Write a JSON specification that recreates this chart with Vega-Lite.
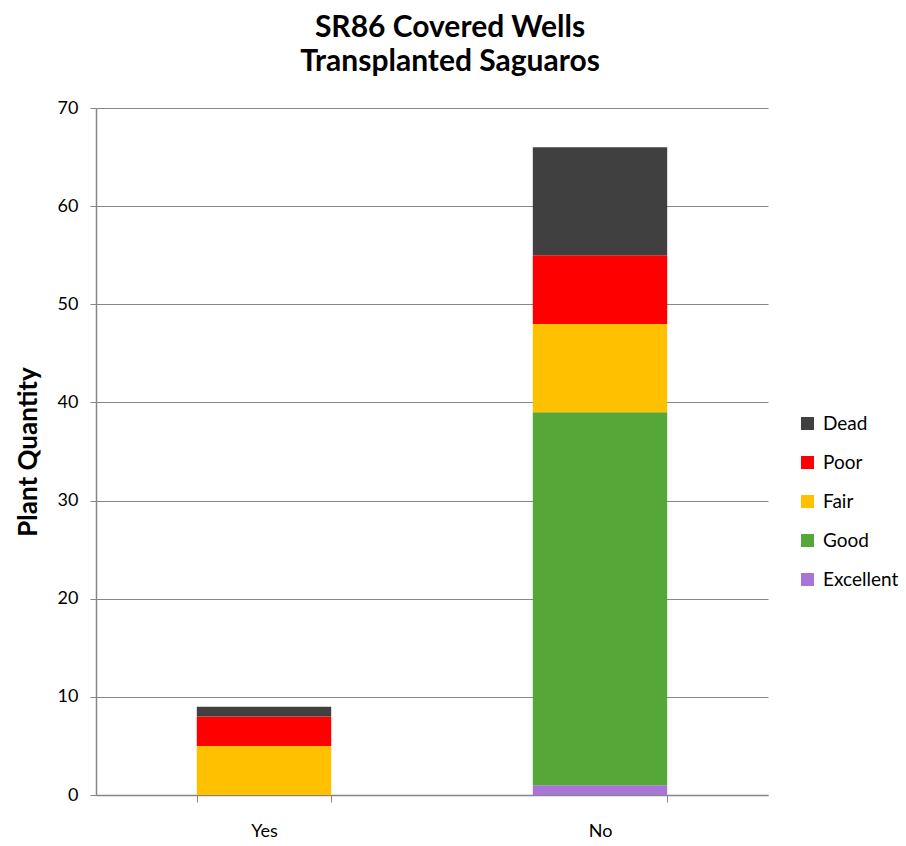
{
  "$schema": "https://vega.github.io/schema/vega-lite/v6.json",
  "width": 672,
  "height": 687,
  "autosize": {"type": "none"},
  "padding": {"left": 96, "top": 108, "right": 138, "bottom": 51},
  "background": "white",
  "title": {
    "text": ["SR86 Covered Wells", "Transplanted Saguaros"],
    "font": "Lato",
    "fontSize": 30,
    "fontWeight": "bold",
    "lineHeight": 34,
    "color": "#000000",
    "anchor": "middle",
    "dx": 18,
    "offset": 22
  },
  "data": {
    "values": [
      {"covered": "Yes", "condition": "Excellent", "rank": 1, "count": 0},
      {"covered": "Yes", "condition": "Good", "rank": 2, "count": 0},
      {"covered": "Yes", "condition": "Fair", "rank": 3, "count": 5},
      {"covered": "Yes", "condition": "Poor", "rank": 4, "count": 3},
      {"covered": "Yes", "condition": "Dead", "rank": 5, "count": 1},
      {"covered": "No", "condition": "Excellent", "rank": 1, "count": 1},
      {"covered": "No", "condition": "Good", "rank": 2, "count": 38},
      {"covered": "No", "condition": "Fair", "rank": 3, "count": 9},
      {"covered": "No", "condition": "Poor", "rank": 4, "count": 7},
      {"covered": "No", "condition": "Dead", "rank": 5, "count": 11}
    ]
  },
  "mark": {"type": "bar"},
  "encoding": {
    "x": {
      "field": "covered",
      "type": "nominal",
      "sort": ["Yes", "No"],
      "scale": {"paddingInner": 0.6, "paddingOuter": 0.3},
      "axis": {
        "title": null,
        "labelAngle": 0,
        "labelFont": "Lato",
        "labelFontSize": 18,
        "labelColor": "#000000",
        "labelPadding": 20,
        "tickBand": "extent",
        "tickSize": 7,
        "tickColor": "#868686",
        "domainColor": "#868686",
        "domainWidth": 1.5
      }
    },
    "y": {
      "field": "count",
      "type": "quantitative",
      "stack": "zero",
      "scale": {"domain": [0, 70], "nice": false},
      "axis": {
        "title": "Plant Quantity",
        "titleFont": "Lato",
        "titleFontSize": 26,
        "titleFontWeight": "bold",
        "titleColor": "#000000",
        "titlePadding": 16,
        "values": [0, 10, 20, 30, 40, 50, 60, 70],
        "labelFont": "Lato",
        "labelFontSize": 18,
        "labelColor": "#000000",
        "labelPadding": 12,
        "tickSize": 6,
        "tickColor": "#868686",
        "domainColor": "#868686",
        "domainWidth": 1.5,
        "grid": true,
        "gridColor": "#868686",
        "gridWidth": 1
      }
    },
    "color": {
      "field": "condition",
      "type": "nominal",
      "scale": {
        "domain": ["Dead", "Poor", "Fair", "Good", "Excellent"],
        "range": ["#404040", "#FF0000", "#FFC000", "#55A838", "#A874D6"]
      },
      "legend": {
        "title": null,
        "orient": "none",
        "legendX": 702,
        "legendY": 306,
        "symbolType": "square",
        "symbolSize": 170,
        "symbolStrokeWidth": 0,
        "labelFont": "Lato",
        "labelFontSize": 19,
        "labelColor": "#000000",
        "labelOffset": 6,
        "rowPadding": 19
      }
    },
    "order": {"field": "rank", "type": "quantitative", "sort": "ascending"}
  },
  "config": {"view": {"stroke": null}}
}
